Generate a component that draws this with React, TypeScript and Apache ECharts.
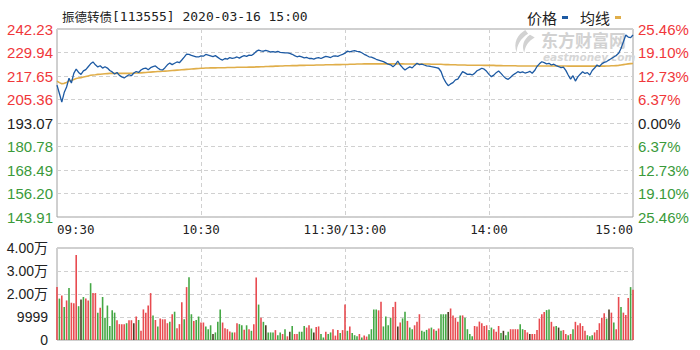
import React, { useEffect, useRef } from "react";
import * as echarts from "echarts";

const titleName = "振德转债";
const titleRest = "[113555] 2020-03-16 15:00";
const seriesNames = ["价格", "均线"];

const priceMin = 143.91;
const priceMax = 242.23;
const priceTicks = ["143.91", "156.20", "168.49", "180.78", "193.07", "205.36", "217.65", "229.94", "242.23"];
const pctTicks = ["25.46%", "19.10%", "12.73%", "6.37%", "0.00%", "6.37%", "12.73%", "19.10%", "25.46%"];
const volTicks = ["0", "9999", "2.00万", "3.00万", "4.00万"];
const timeTickIdx = [0, 60, 120, 180, 240];
const timeTickLabels = ["09:30", "10:30", "11:30/13:00", "14:00", "15:00"];

const categories: string[] = [];
for (let i = 0; i <= 240; i++) {
  const m = i <= 120 ? 570 + i : 780 + (i - 120);
  categories.push(String(Math.floor(m / 60)).padStart(2, "0") + ":" + String(m % 60).padStart(2, "0"));
}

const price = [
  212.9, 208.5, 204.0, 209.0, 211.9, 216.5, 214.0, 219.0, 221.3, 219.5, 218.5,
  220.3, 221.0, 222.5, 224.0, 225.0, 223.5, 222.4, 223.0, 221.8, 222.5,
  221.8, 220.5, 219.8, 218.7, 219.5, 218.0, 217.2, 216.6, 217.5, 218.3,
  217.8, 219.2, 220.0, 219.5, 220.8, 221.5, 221.8, 220.9, 222.0, 222.5,
  222.9, 221.8, 221.0, 220.8, 222.0, 223.5, 224.4, 223.6, 224.3, 225.0,
  224.6, 226.0, 227.5, 229.1, 229.0, 228.4, 228.0, 227.6, 227.6, 228.2,
  228.0, 228.9, 228.6, 228.2, 227.8, 228.3, 227.4, 226.5, 226.0, 226.8,
  226.5, 227.3, 226.9, 227.1, 227.6, 227.0, 227.8, 228.3, 227.9, 228.6,
  228.4, 229.2, 230.5, 231.2, 230.8, 230.6, 231.0, 230.7, 230.2, 230.4,
  230.1, 230.5, 230.0, 229.9, 229.7, 229.7, 229.5, 229.0, 228.3, 227.7,
  228.0, 227.6, 227.1, 227.4, 226.8, 226.9, 226.5, 227.0, 227.3, 226.8,
  227.4, 227.9, 227.7, 227.3, 228.0, 228.2, 227.9, 228.5, 229.0, 229.6,
  230.7, 230.3, 230.6, 230.9, 230.5, 230.4, 229.8, 229.0, 228.4, 227.7,
  227.5, 227.0, 226.4, 226.0, 225.6, 225.2, 224.5, 223.8, 223.5, 222.5,
  223.6, 225.5, 223.4, 222.0, 220.8, 221.7, 222.4, 221.9, 223.2, 224.3,
  223.6, 223.9, 223.4, 223.0, 222.8, 222.5, 222.3, 222.0, 221.7, 220.0,
  216.6, 214.3, 212.6, 213.5, 214.2, 215.6, 216.0, 218.0, 219.9, 219.3,
  218.5, 218.6, 218.2, 219.0, 220.4, 221.0, 221.7, 221.2, 220.1, 218.5,
  217.3, 218.1, 219.4, 220.3, 219.0, 217.6, 216.4, 215.9, 217.0, 218.2,
  219.0, 219.9, 219.4, 219.8, 219.2, 219.5, 220.1, 219.1, 220.5, 222.6,
  224.0, 225.1, 224.6, 224.0, 224.3, 223.4, 223.8, 223.1, 222.6, 222.0,
  222.3, 220.6, 218.2, 216.0, 217.8, 215.0, 217.2, 218.6, 219.9, 219.0,
  219.4, 218.2, 220.5, 221.8, 223.4, 222.6, 224.0, 224.8, 225.2, 226.0,
  226.8, 227.6, 228.4, 229.5, 232.0, 235.6, 239.1, 238.0, 237.7, 239.1,
];

const avgPrice = [
  215.0, 214.2, 213.6, 213.8, 214.3, 215.0, 215.3, 215.8, 216.3, 216.6,
  216.8, 217.1, 217.4, 217.7, 218.0, 218.2, 218.3, 218.5, 218.6, 218.7,
  218.8, 218.9, 219.0, 219.0, 219.0, 219.0, 219.0, 219.0, 219.0, 219.0,
  219.0, 219.1, 219.1, 219.2, 219.2, 219.3, 219.4, 219.5, 219.6, 219.7,
  219.8, 219.9, 220.0, 220.0, 220.1, 220.2, 220.3, 220.4, 220.5, 220.6,
  220.7, 220.8, 220.9, 221.0, 221.1, 221.2, 221.3, 221.4, 221.5, 221.6,
  221.7, 221.7, 221.8, 221.8, 221.9, 221.9, 221.9, 222.0, 222.0, 222.0,
  222.0, 222.1, 222.1, 222.1, 222.1, 222.2, 222.2, 222.2, 222.2, 222.2,
  222.3, 222.3, 222.3, 222.4, 222.4, 222.5, 222.5, 222.6, 222.6, 222.7,
  222.7, 222.8, 222.8, 222.9, 222.9, 223.0, 223.0, 223.0, 223.1, 223.1,
  223.1, 223.2, 223.2, 223.2, 223.3, 223.3, 223.3, 223.3, 223.4, 223.4,
  223.4, 223.4, 223.5, 223.5, 223.5, 223.5, 223.6, 223.6, 223.6, 223.7,
  223.7, 223.7, 223.8, 223.8, 223.8, 223.9, 223.9, 223.9, 224.0, 224.0,
  224.0, 224.0, 224.0, 224.0, 224.0, 224.0, 224.0, 224.0, 224.0, 224.0,
  224.0, 224.0, 224.0, 224.0, 224.0, 223.9, 223.9, 223.9, 223.9, 223.9,
  223.9, 223.9, 223.9, 223.9, 223.9, 223.9, 223.8, 223.8, 223.8, 223.8,
  223.8, 223.7, 223.6, 223.6, 223.5, 223.5, 223.5, 223.4, 223.4, 223.4,
  223.4, 223.3, 223.3, 223.3, 223.3, 223.3, 223.3, 223.3, 223.2, 223.2,
  223.2, 223.2, 223.2, 223.1, 223.1, 223.1, 223.0, 223.0, 223.0, 223.0,
  223.0, 223.0, 222.9, 222.9, 222.9, 222.9, 222.9, 222.9, 222.9, 222.9,
  222.9, 222.9, 222.9, 222.9, 222.9, 222.9, 222.9, 222.9, 222.9, 222.9,
  222.9, 222.9, 222.9, 222.8, 222.8, 222.8, 222.8, 222.8, 222.8, 222.8,
  222.8, 222.8, 222.8, 222.8, 222.8, 222.8, 222.8, 222.8, 222.8, 222.9,
  222.9, 223.0, 223.0, 223.1, 223.2, 223.4, 223.6, 223.8, 224.0, 224.1,
  224.2,
];

const volume = [
  23000, 18000, 19300, 14400, 17200, 22600, 16200, 16000, 37000, 14700,
  17600, 18700, 18000, 17200, 24700, 20400, 20400, 11900, 14000, 18700,
  9700, 15000, 6100, 12900, 11900, 8600, 6900, 6900, 6900, 7300,
  8600, 8600, 7300, 10200, 8700, 4000, 13300, 11900, 15000, 20400,
  10700, 8700, 5900, 9300, 9000, 9000, 7300, 7900, 11200, 12300,
  5100, 6900, 16400, 9000, 23000, 27300, 11200, 8300, 8700, 10200,
  7600, 7600, 5900, 4700, 6400, 2600, 3300, 7900, 13300, 7600,
  5100, 4700, 3700, 3300, 3300, 7300, 6900, 6400, 4500, 6400,
  4700, 4000, 6900, 27200, 15400, 9700, 7900, 6400, 3300, 3300,
  3300, 4300, 2100, 3300, 2600, 4700, 1600, 3600, 6100, 2600,
  2600, 3600, 3600, 6100, 5400, 6400, 5000, 3300, 5700, 5900,
  2600, 1100, 3600, 2600, 3300, 4700, 1900, 4300, 3000, 4300,
  15400, 4000, 5900, 3000, 2100, 1600, 2600, 1100, 2000, 1500,
  2500, 4700, 13300, 13300, 12900, 16600, 5900, 10200, 6400, 9700,
  14400, 16600, 5900, 7600, 9400, 12300, 8300, 5400, 4700, 6400,
  7900, 11200, 4000, 3600, 4400, 5000, 5400, 4700, 4000, 5000,
  11200, 11200, 11200, 12200, 13700, 10700, 9700, 7900, 10700, 10700,
  9700, 4700, 2600, 1600, 6100, 5900, 8000, 7300, 6100, 6400,
  4300, 5400, 4700, 3600, 6100, 3000, 4000, 2100, 3600, 4700,
  4700, 4700, 4700, 6900, 4700, 4400, 3300, 2600, 2600, 2600,
  4300, 9300, 11200, 12200, 13000, 13300, 7900, 5900, 6100, 5400,
  4000, 4300, 2600, 2100, 2600, 4700, 7900, 6400, 7300, 6100,
  4000, 2100, 1600, 2100, 3300, 4400, 7300, 9700, 11600, 9300,
  13300, 11900, 7600, 4700, 18700, 14400, 11900, 10900, 18300, 23000,
  21900,
];

// r = up, g = down, k = dark bar
const volDir = (
  "rgrgrgrrrg" + "kgrrgrrgrg" + "gggggrrrrg" + "rrkrgrrrrr" + "grgrrrrgrg" +
  "rrrgrggrgg" + "rrgggkgggr" + "rrrgrrggrg" + "rgrrgrgkgg" + "grggrgrkgr" +
  "rgggrrgkrr" + "ggrggrrrgr" + "rgrgggrgrr" + "ggggrrgggg" + "rrkrggrggr" +
  "rrgggrgrgr" + "gggkrrrrgr" + "ggggrrrrrr" + "ggrrrgkggr" + "rrrggrrkrr" +
  "rrrrggrrgk" + "grrgrgrrrr" + "rgggrrrrrg" + "krgrrgrrrg" + "r"
).split("");

const RED = "#f0373a";
const GREEN = "#3a9a3a";
const DARK = "#222222";
const BAR_COLORS: Record<string, string> = { r: "#e84b50", g: "#45a845", k: "#4a3c22" };
const GRID_LINE = { color: "#d0d0d0", type: [4, 3] as number[], width: 1 };
const NUM_FONT = "Liberation Sans, Noto Sans CJK SC, sans-serif";
const MONO_FONT = "DejaVu Sans Mono, monospace";
const CJK_FONT = "Noto Sans CJK SC, sans-serif";

const LOGO_D =
  "M15 0 C7 5 2 13 6 24 C6 16 10 9 18 4 Z M20 5 C13 10 11 17 14 24 C15 17 18 12 25 8 Z";

export default function App() {
  const ref = useRef<HTMLDivElement>(null);

  useEffect(() => {
    if (!ref.current) return;
    try {
      echarts.graphic.registerShape("logo", echarts.graphic.extendPath(LOGO_D, {}) as any);
    } catch (e) {
      /* ignore */
    }
    const chart = echarts.init(ref.current, undefined, { renderer: "svg" });
    const vSplit = (idx: number) => idx === 60 || idx === 120 || idx === 180;
    const priceColor = (v: any) => {
      const n = Number(v);
      return n > 4 ? RED : n < 4 ? GREEN : DARK;
    };
    chart.setOption({
      animation: false,
      backgroundColor: "#ffffff",
      title: {
        left: 57,
        top: 5,
        text: "{a|" + titleName + "}{b|" + titleRest + "}",
        textStyle: {
          fontWeight: "normal",
          rich: {
            a: { fontFamily: CJK_FONT, fontSize: 12.5, fontWeight: "normal", color: "#222" },
            b: { fontFamily: MONO_FONT, fontSize: 13, fontWeight: "normal", color: "#222" },
          },
        },
      },
      legend: {
        data: seriesNames,
        left: 522,
        top: 5,
        align: "right",
        icon: "rect",
        itemWidth: 6,
        itemHeight: 3,
        itemGap: 12,
        textStyle: { fontFamily: CJK_FONT, fontSize: 15, color: "#222" },
      },
      graphic: [
        {
          type: "logo",
          x: 511,
          y: 30,
          scaleX: 0.95,
          scaleY: 0.95,
          z: 1,
          silent: true,
          style: { fill: "#d2d2d2" },
        },
        {
          type: "text",
          x: 541,
          y: 31,
          z: 1,
          silent: true,
          style: {
            text: "东方财富网",
            fontFamily: CJK_FONT,
            fontSize: 17,
            fontWeight: "bold",
            fill: "#d2d2d2",
          },
        },
        {
          type: "text",
          x: 543,
          y: 51,
          z: 1,
          silent: true,
          style: {
            text: "eastmoney.com",
            fontFamily: "DejaVu Sans, sans-serif",
            fontSize: 10.5,
            fontWeight: "bold",
            fontStyle: "italic",
            fill: "#d6d6d6",
          },
        },
      ],
      grid: [
        { left: 57, top: 29, width: 576, height: 188, show: true, borderColor: "#a0a0a0", borderWidth: 1 },
        { left: 57, top: 248, width: 576, height: 92, show: true, borderColor: "#a0a0a0", borderWidth: 1 },
      ],
      xAxis: [
        {
          type: "category",
          gridIndex: 0,
          data: categories,
          boundaryGap: false,
          axisLine: { show: false },
          axisTick: { show: false },
          axisLabel: {
            interval: (idx: number) => timeTickIdx.includes(idx),
            formatter: (val: string) => {
              const k = timeTickIdx.findIndex((t) => categories[t] === val);
              return k >= 0 ? timeTickLabels[k] : "";
            },
            alignMinLabel: "left",
            alignMaxLabel: "right",
            fontFamily: MONO_FONT,
            fontSize: 12.5,
            color: "#222",
            margin: 6,
          },
          splitLine: { show: true, interval: vSplit, lineStyle: GRID_LINE },
        },
        {
          type: "category",
          gridIndex: 1,
          data: categories,
          boundaryGap: false,
          axisLine: { show: false },
          axisTick: { show: false },
          axisLabel: { show: false },
          splitLine: { show: true, interval: vSplit, lineStyle: GRID_LINE },
        },
      ],
      yAxis: [
        {
          type: "value",
          gridIndex: 0,
          position: "left",
          min: 0,
          max: 8,
          interval: 1,
          axisLine: { show: false },
          axisTick: { show: false },
          axisLabel: {
            formatter: (v: number) => priceTicks[v],
            color: priceColor,
            fontFamily: NUM_FONT,
            fontSize: 15,
            margin: 4,
          },
          splitLine: { show: true, lineStyle: GRID_LINE },
        },
        {
          type: "value",
          gridIndex: 0,
          position: "right",
          min: 0,
          max: 8,
          interval: 1,
          axisLine: { show: false },
          axisTick: { show: false },
          axisLabel: {
            formatter: (v: number) => pctTicks[v],
            color: priceColor,
            fontFamily: NUM_FONT,
            fontSize: 15,
            margin: 5,
          },
          splitLine: { show: false },
        },
        {
          type: "value",
          gridIndex: 0,
          min: priceMin,
          max: priceMax,
          show: false,
          splitLine: { show: false },
        },
        {
          type: "value",
          gridIndex: 1,
          min: 0,
          max: 40000,
          interval: 10000,
          axisLine: { show: false },
          axisTick: { show: false },
          axisLabel: {
            formatter: (v: number) => volTicks[Math.round(v / 10000)],
            color: "#222",
            fontFamily: NUM_FONT,
            fontSize: 14,
            margin: 9,
          },
          splitLine: { show: true, lineStyle: GRID_LINE },
        },
      ],
      series: [
        {
          name: seriesNames[0],
          type: "line",
          xAxisIndex: 0,
          yAxisIndex: 2,
          data: price,
          symbol: "none",
          color: "#1d5aa3",
          lineStyle: { color: "#1d5aa3", width: 1.3 },
          z: 4,
        },
        {
          name: seriesNames[1],
          type: "line",
          xAxisIndex: 0,
          yAxisIndex: 2,
          data: avgPrice,
          symbol: "none",
          color: "#e0ae4a",
          lineStyle: { color: "#e0ae4a", width: 1.6 },
          z: 3,
        },
        {
          name: "成交量",
          type: "bar",
          xAxisIndex: 1,
          yAxisIndex: 3,
          barWidth: 1.6,
          data: volume.map((v, i) => ({ value: v, itemStyle: { color: BAR_COLORS[volDir[i]] } })),
        },
      ],
    });
    return () => chart.dispose();
  }, []);

  return (
    <div
      ref={ref}
      style={{ position: "fixed", left: 0, top: 0, width: 700, height: 350, background: "#fff" }}
    />
  );
}
